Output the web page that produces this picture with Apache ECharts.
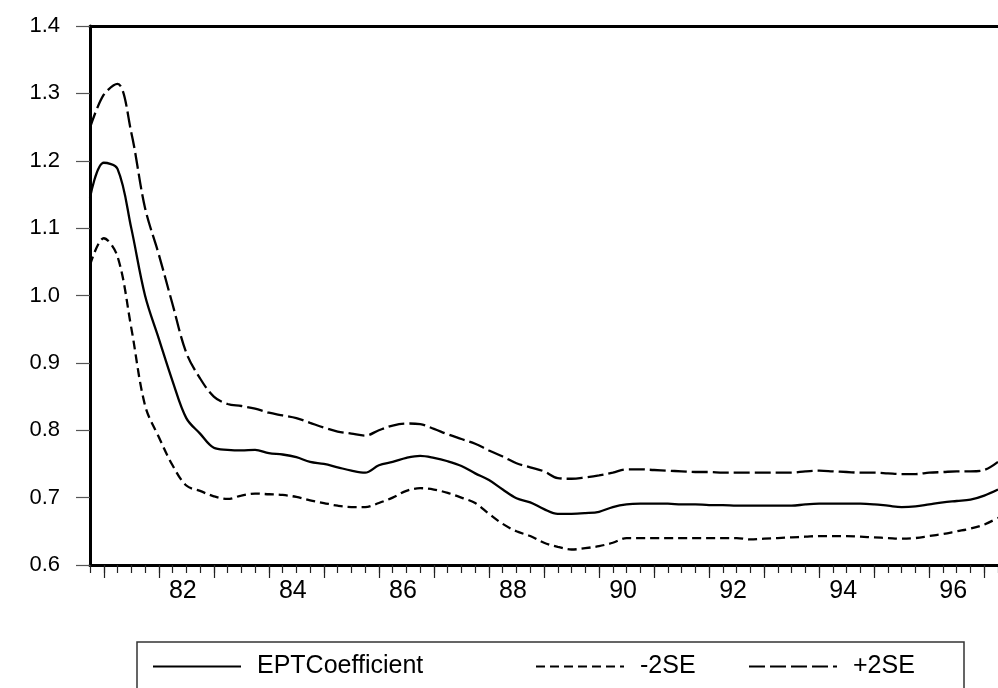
<!DOCTYPE html>
<html>
<head>
<meta charset="utf-8">
<title>EPT Coefficient</title>
<script src="https://cdn.jsdelivr.net/npm/echarts@6/dist/echarts.min.js"></script>
<style>
  html, body { margin: 0; padding: 0; background: #fff; }
  #chart { width: 998px; height: 688px; }
</style>
</head>
<body>
<div id="chart"></div>
<script>
// quarterly sample, 1980Q4 - 1997Q2
var quarters = [
  '1980Q4',
  '1981Q1','1981Q2','1981Q3','1981Q4','1982Q1','1982Q2','1982Q3','1982Q4',
  '1983Q1','1983Q2','1983Q3','1983Q4','1984Q1','1984Q2','1984Q3','1984Q4',
  '1985Q1','1985Q2','1985Q3','1985Q4','1986Q1','1986Q2','1986Q3','1986Q4',
  '1987Q1','1987Q2','1987Q3','1987Q4','1988Q1','1988Q2','1988Q3','1988Q4',
  '1989Q1','1989Q2','1989Q3','1989Q4','1990Q1','1990Q2','1990Q3','1990Q4',
  '1991Q1','1991Q2','1991Q3','1991Q4','1992Q1','1992Q2','1992Q3','1992Q4',
  '1993Q1','1993Q2','1993Q3','1993Q4','1994Q1','1994Q2','1994Q3','1994Q4',
  '1995Q1','1995Q2','1995Q3','1995Q4','1996Q1','1996Q2','1996Q3','1996Q4',
  '1997Q1','1997Q2'
];

var eptCoef = [
  1.145, 1.197, 1.188, 1.100, 1.000, 0.936, 0.873, 0.818, 0.795, 0.774,
  0.771, 0.770, 0.771, 0.766, 0.764, 0.760, 0.753, 0.750, 0.745, 0.740,
  0.737, 0.748, 0.753, 0.759, 0.762, 0.759, 0.754, 0.747, 0.736, 0.726,
  0.712, 0.699, 0.693, 0.683, 0.676, 0.676, 0.677, 0.679, 0.686, 0.690,
  0.691, 0.691, 0.691, 0.690, 0.690, 0.689, 0.689, 0.688, 0.688, 0.688,
  0.688, 0.688, 0.690, 0.691, 0.691, 0.691, 0.691, 0.690, 0.688, 0.686,
  0.687, 0.690, 0.693, 0.695, 0.697, 0.703, 0.712
];

var minus2SE = [
  1.045, 1.085, 1.058, 0.952, 0.837, 0.790, 0.748, 0.718, 0.710, 0.702,
  0.698, 0.703, 0.706, 0.705, 0.704, 0.701, 0.696, 0.692, 0.688, 0.686,
  0.686, 0.692, 0.700, 0.710, 0.714, 0.712, 0.707, 0.700, 0.692, 0.676,
  0.661, 0.650, 0.643, 0.633, 0.627, 0.623, 0.625, 0.628, 0.633, 0.640,
  0.640, 0.640, 0.640, 0.640, 0.640, 0.640, 0.640, 0.640, 0.638, 0.639,
  0.640, 0.641, 0.642, 0.643, 0.643, 0.643, 0.642, 0.641, 0.640, 0.639,
  0.640, 0.643, 0.646, 0.650, 0.654, 0.660, 0.670
];

var plus2SE = [
  1.249, 1.298, 1.314, 1.242, 1.130, 1.061, 0.987, 0.915, 0.877, 0.850,
  0.839, 0.836, 0.832, 0.826, 0.822, 0.818, 0.811, 0.804, 0.798, 0.795,
  0.792, 0.800, 0.807, 0.810, 0.809, 0.802, 0.794, 0.787, 0.780, 0.770,
  0.761, 0.751, 0.745, 0.739, 0.729, 0.728, 0.730, 0.733, 0.737, 0.742,
  0.742, 0.741, 0.740, 0.739, 0.738, 0.738, 0.737, 0.737, 0.737, 0.737,
  0.737, 0.737, 0.739, 0.740, 0.739, 0.738, 0.737, 0.737, 0.736, 0.735,
  0.735, 0.737, 0.738, 0.739, 0.739, 0.741, 0.753
];

var seriesNames = ['EPTCoefficient', '-2SE', '+2SE'];

var chart = echarts.init(document.getElementById('chart'));
var font = 'Arial, "Liberation Sans", sans-serif';

function legendAt(name, left) {
  return {
    data: [name],
    left: left,
    top: 654,
    padding: 0,
    itemWidth: 88,
    itemHeight: 14,
    selectedMode: false,
    itemStyle: { opacity: 0 },
    textStyle: { fontFamily: font, fontSize: 25, color: '#000', padding: [0, 0, 0, 11] }
  };
}

var option = {
  backgroundColor: '#fff',
  animation: false,
  grid: { left: 90, right: 0, top: 26, bottom: 123, containLabel: false },
  xAxis: [
    {
      type: 'category',
      data: quarters,
      boundaryGap: false,
      position: 'bottom',
      axisLine: { lineStyle: { color: '#000', width: 3 } },
      axisTick: { interval: 0, length: 8, lineStyle: { color: '#222', width: 1.2 } },
      axisLabel: {
        interval: function (i, v) {
          var y = parseInt(v.slice(0, 4), 10);
          return v.slice(4) === 'Q3' && y % 2 === 0;
        },
        formatter: function (v) { return v.slice(2, 4); },
        fontFamily: font, fontSize: 25, color: '#000',
        margin: 14, padding: [0, 7, 0, 0]
      },
      splitLine: { show: false }
    },
    {
      type: 'category',
      data: quarters,
      boundaryGap: false,
      position: 'top',
      axisLine: { lineStyle: { color: '#000', width: 3 } },
      axisTick: { show: false },
      axisLabel: { show: false },
      splitLine: { show: false }
    },
    {
      type: 'category',
      data: quarters,
      boundaryGap: false,
      position: 'bottom',
      axisLine: { show: false },
      axisTick: {
        interval: function (i, v) { return v.slice(4) === 'Q1'; },
        length: 13, lineStyle: { color: '#222', width: 1.2 }
      },
      axisLabel: { show: false },
      splitLine: { show: false }
    }
  ],
  yAxis: {
    type: 'value',
    min: 0.6,
    max: 1.4,
    interval: 0.1,
    axisLine: { show: true, lineStyle: { color: '#000', width: 3 } },
    axisTick: { show: true, length: 14, lineStyle: { color: '#555', width: 1.2 } },
    axisLabel: {
      formatter: function (v) { return v.toFixed(1); },
      fontFamily: font, fontSize: 22, color: '#000',
      margin: 30, padding: [0, 0, 10, 0]
    },
    splitLine: { show: false }
  },
  legend: [
    legendAt(seriesNames[0], 152),
    legendAt(seriesNames[1], 535),
    legendAt(seriesNames[2], 748)
  ],
  graphic: [{
    type: 'rect',
    shape: { x: 137, y: 642, width: 827, height: 60 },
    style: { fill: 'none', stroke: '#333', lineWidth: 1.5 }
  }],
  series: [
    {
      name: seriesNames[0],
      type: 'line',
      data: eptCoef,
      smooth: 0.35,
      symbol: 'none',
      lineStyle: { color: '#000', width: 2.3, type: 'solid' },
      itemStyle: { color: '#000' }
    },
    {
      name: seriesNames[1],
      type: 'line',
      data: minus2SE,
      smooth: 0.35,
      symbol: 'none',
      lineStyle: { color: '#000', width: 2.3, type: [9, 5] },
      itemStyle: { color: '#000' }
    },
    {
      name: seriesNames[2],
      type: 'line',
      data: plus2SE,
      smooth: 0.35,
      symbol: 'none',
      lineStyle: { color: '#000', width: 2.3, type: [16, 5] },
      itemStyle: { color: '#000' }
    }
  ]
};

chart.setOption(option);

window.addEventListener('resize', function () {
  chart.resize();
});
</script>
</body>
</html>
